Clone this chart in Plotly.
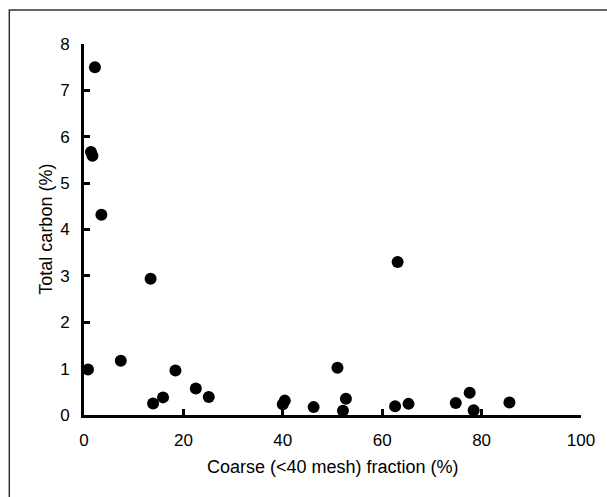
import plotly.graph_objects as go

coarse_fraction = [0.8, 7.4, 13.9, 15.9, 18.4, 22.5, 25.1, 40.0, 40.4, 46.2, 51.0, 52.7, 52.1,
                   62.6, 65.3, 74.8, 77.6, 78.4, 85.6, 2.2, 1.4, 1.7, 3.5, 13.4, 63.1]
total_carbon = [0.98, 1.17, 0.25, 0.38, 0.96, 0.57, 0.39, 0.23, 0.31, 0.17, 1.02, 0.35, 0.09,
                0.19, 0.24, 0.26, 0.48, 0.10, 0.27, 7.50, 5.67, 5.59, 4.32, 2.94, 3.30]
x_ticks = [0, 20, 40, 60, 80, 100]
y_ticks = [0, 1, 2, 3, 4, 5, 6, 7, 8]

W, H = 607, 497
L, R, T, B = 84, 24, 44, 82
pw, ph = W - L - R, H - T - B

def px_x(p):
    return (p - L) / pw

def px_y(p):
    return (H - B - p) / ph

fig = go.Figure()
fig.add_trace(go.Scatter(
    x=coarse_fraction, y=total_carbon, mode="markers",
    marker=dict(color="black", size=12, line=dict(width=0)),
    cliponaxis=False, showlegend=False,
))

font = "Liberation Sans, Arial, sans-serif"
fig.update_layout(
    width=W, height=H,
    margin=dict(l=L, r=R, t=T, b=B),
    paper_bgcolor="white", plot_bgcolor="white",
    font=dict(family=font, color="black", size=17),
    xaxis=dict(range=[0, 100], tickvals=x_ticks, showgrid=False, zeroline=False,
               showline=True, linecolor="black", linewidth=3,
               ticks="inside", ticklen=6, tickwidth=2.5, tickcolor="black",
               ticklabelstandoff=8, tickfont=dict(size=17)),
    yaxis=dict(range=[0, 8], tickvals=y_ticks, showgrid=False, zeroline=False,
               showline=True, linecolor="black", linewidth=3,
               ticks="inside", ticklen=6, tickwidth=2.5, tickcolor="black",
               ticklabelstandoff=8, tickfont=dict(size=17)),
    annotations=[
        dict(text="Coarse (<40 mesh) fraction (%)", xref="paper", yref="paper",
             x=0.5, y=px_y(467), xanchor="center", yanchor="middle",
             showarrow=False, font=dict(size=18, family=font)),
        dict(text="Total carbon (%)", xref="paper", yref="paper",
             x=px_x(45), y=0.5, xanchor="center", yanchor="middle", textangle=-90,
             showarrow=False, font=dict(size=18, family=font)),
    ],
    shapes=[dict(type="rect", xref="paper", yref="paper",
                 x0=px_x(9), x1=px_x(615), y0=px_y(10), y1=px_y(510),
                 line=dict(color="#333333", width=1.5), layer="below")],
)

fig.write_html("out.html")
